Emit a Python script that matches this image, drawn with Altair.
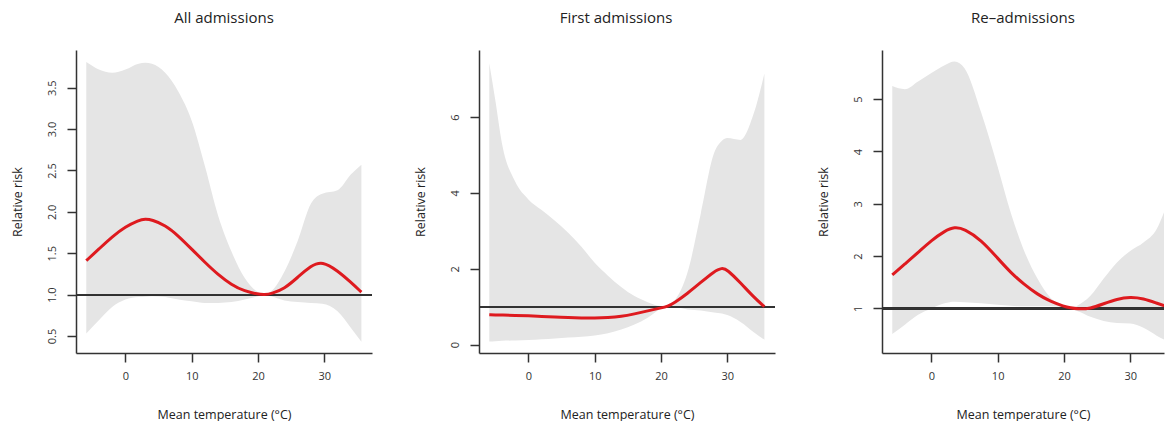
import altair as alt
import pandas as pd

# ---- data ----
titles = ["All admissions", "First admissions", "Re\u2013admissions"]

x_all = [-5.9, -4, -2, 0, 2, 3, 4, 6, 8, 10, 12, 14, 16, 18, 20, 21, 22, 24, 26, 28, 29.7, 32, 34, 35.6]
rr_all = [1.41, 1.55, 1.70, 1.82, 1.90, 1.915, 1.905, 1.84, 1.71, 1.55, 1.39, 1.24, 1.12, 1.04, 1.005, 1.0, 1.01, 1.07, 1.21, 1.35, 1.405, 1.29, 1.15, 1.03]
lo_all = [0.53, 0.69, 0.85, 0.94, 0.97, 0.975, 0.98, 0.97, 0.94, 0.92, 0.90, 0.90, 0.91, 0.94, 0.98, 1.0, 0.98, 0.93, 0.91, 0.90, 0.89, 0.80, 0.60, 0.43]
hi_all = [3.81, 3.72, 3.68, 3.72, 3.79, 3.80, 3.79, 3.68, 3.45, 3.10, 2.55, 1.95, 1.52, 1.20, 1.03, 1.0, 1.04, 1.28, 1.65, 2.10, 2.22, 2.26, 2.45, 2.57]

x_first = [-5.9, -5, -4, -2, 0, 2, 4, 6, 8, 10, 12, 14, 16, 18, 20, 21, 22, 24, 26, 28, 29.2, 30, 32, 34, 35.6]
rr_first = [0.79, 0.785, 0.78, 0.77, 0.76, 0.745, 0.73, 0.715, 0.705, 0.70, 0.71, 0.74, 0.81, 0.89, 0.97, 1.01, 1.10, 1.35, 1.64, 1.93, 2.03, 1.98, 1.63, 1.25, 1.0]
lo_first = [0.08, 0.09, 0.10, 0.11, 0.12, 0.14, 0.16, 0.19, 0.21, 0.24, 0.30, 0.40, 0.53, 0.71, 0.95, 1.0, 0.99, 0.93, 0.90, 0.85, 0.82, 0.78, 0.60, 0.33, 0.13]
hi_first = [7.42, 6.46, 5.32, 4.30, 3.83, 3.55, 3.27, 2.95, 2.58, 2.16, 1.82, 1.52, 1.28, 1.12, 1.02, 1.03, 1.15, 1.90, 3.45, 5.05, 5.38, 5.45, 5.40, 6.10, 7.15]

x_re = [-5.9, -4, -2, 0, 2, 3.5, 5, 7.5, 10, 12, 14, 16, 18, 20, 21, 22, 24, 26, 28, 30, 32, 34, 35.6]
rr_re = [1.64, 1.85, 2.07, 2.30, 2.48, 2.56, 2.52, 2.31, 1.96, 1.68, 1.46, 1.27, 1.13, 1.04, 1.01, 0.99, 0.995, 1.09, 1.18, 1.22, 1.19, 1.10, 1.03]
lo_re = [0.51, 0.69, 0.88, 1.0, 1.10, 1.13, 1.12, 1.10, 1.07, 1.05, 1.04, 1.04, 1.04, 1.02, 0.99, 0.95, 0.84, 0.76, 0.72, 0.71, 0.63, 0.48, 0.37]
hi_re = [5.25, 5.19, 5.34, 5.50, 5.65, 5.72, 5.59, 4.75, 3.71, 2.82, 2.10, 1.57, 1.20, 1.05, 1.0, 1.05, 1.24, 1.57, 1.88, 2.10, 2.26, 2.52, 3.01]

x_ticks = [0, 10, 20, 30]
y_ticks = [[0.5, 1.0, 1.5, 2.0, 2.5, 3.0, 3.5], [0, 2, 4, 6], [1, 2, 3, 4, 5]]
y_domains = [[0.295, 3.955], [-0.22, 7.77], [0.148, 5.94]]
y_formats = [".1f", "d", "d"]
x_domains = [[-7.45, 37.2], [-7.45, 37.2], [-7.45, 35.1]]
widths = [296, 296, 282]

FONT = "Open Sans"
series = [(x_all, rr_all, lo_all, hi_all), (x_first, rr_first, lo_first, hi_first), (x_re, rr_re, lo_re, hi_re)]
title_dx = [0, -11, 0]


def panel(i):
    xs, rr, lo, hi = series[i]
    df = pd.DataFrame({"temp": xs, "rr": rr, "lo": lo, "hi": hi})
    xenc = alt.X("temp:Q", scale=alt.Scale(domain=x_domains[i], nice=False, zero=False),
                 axis=alt.Axis(values=x_ticks, title="Mean temperature (\u00b0C)", grid=False,
                               tickSize=9, labelPadding=8, titlePadding=27, format="d"))
    yscale = alt.Scale(domain=y_domains[i], nice=False, zero=False)
    yaxis = alt.Axis(values=y_ticks[i], title="Relative risk", grid=False, format=y_formats[i],
                     tickSize=9, labelPadding=10, labelAngle=270, labelAlign="center",
                     labelBaseline="bottom", titlePadding=22)
    base = alt.Chart(df)
    band = base.mark_area(color="#e5e5e5", interpolate="monotone", clip=True).encode(
        x=xenc, y=alt.Y("lo:Q", scale=yscale, axis=yaxis), y2="hi:Q")
    ref = base.mark_rule(color="#333333", strokeWidth=1.4).encode(y=alt.datum(1))
    line = base.mark_line(color="#de1a1f", strokeWidth=3, interpolate="basis", clip=True).encode(
        x="temp:Q", y="rr:Q")
    return alt.layer(band, ref, line).properties(
        width=widths[i], height=303,
        title=alt.TitleParams(titles[i], fontSize=15, font=FONT, fontWeight="normal",
                              color="#222222", offset=24, dx=title_dx[i]))


chart = alt.hconcat(panel(0), panel(1), panel(2), spacing=41).properties(
    padding={"left": 3, "top": 3, "right": 0, "bottom": 0}
).configure_view(stroke=None).configure_axis(
    domainColor="#333333", domainWidth=1.5, tickColor="#333333", tickWidth=1.5,
    labelFont=FONT, labelFontSize=11, labelColor="#333333",
    titleFont=FONT, titleFontSize=12.5, titleFontWeight="normal", titleColor="#222222"
).configure_axisX(orient="bottom").configure_axisY(orient="left")

chart.save("out.html", embed_options={"renderer": "svg", "actions": False})
